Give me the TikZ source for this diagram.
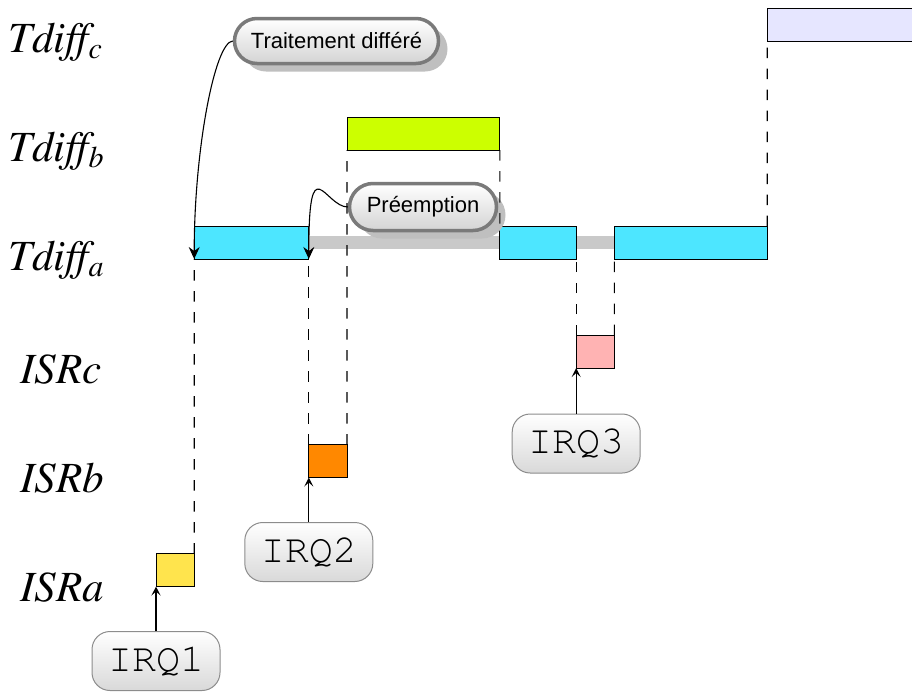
\documentclass[tikz,border=0pt]{standalone}
\usepackage[T1]{fontenc}
\usepackage{fontspec}
\newfontfamily\calloutfont{Liberation Sans}
\usetikzlibrary{shapes.misc,shadows,arrows.meta}

\definecolor{runA}{RGB}{77,230,255}
\definecolor{runB}{RGB}{204,255,0}
\definecolor{runC}{RGB}{230,230,255}
\definecolor{isrA}{RGB}{255,228,77}
\definecolor{isrB}{RGB}{255,136,0}
\definecolor{isrC}{RGB}{255,179,179}

% Times italic for the row names
\newcommand\labelfont{\fontencoding{T1}\fontfamily{ptm}\fontseries{m}\fontshape{it}\selectfont}
% subscript of the deferred-task labels
\newcommand\lowsub[1]{\raisebox{-6pt}{\fontsize{30}{30}\selectfont #1}}
% thin typewriter face for the interrupt names
\newcommand\irqfont{\fontencoding{T1}\fontfamily{pcr}\fontseries{m}\fontshape{n}\selectfont}

\begin{document}
\begin{tikzpicture}[x=1pt,y=-1pt,
  task/.style={draw=black, line width=1pt, inner sep=0pt, outer sep=0pt,
    minimum height=33pt, anchor=south west},
  waitbar/.style={fill=black!21, draw=none},
  rowlabel/.style={font=\labelfont\fontsize{43}{43}\selectfont, inner sep=0pt, anchor=base west},
  callout/.style={rounded rectangle, draw=black!52, line width=3.5pt,
    top color=white, bottom color=black!17, inner sep=0pt,
    font=\calloutfont\fontsize{22}{22}\selectfont,
    drop shadow={shadow xshift=9pt, shadow yshift=-8pt, fill=black!25, opacity=1}},
  irq/.style={rectangle, rounded corners=18pt, draw=black!45, line width=1pt,
    top color=white, bottom color=black!15, minimum width=128pt,
    minimum height=59pt, inner sep=0pt,
    font=\irqfont\fontsize{40}{40}\selectfont},
  link/.style={line width=1.1pt, dash pattern=on 10.5pt off 10.5pt},
  callarrow/.style={line width=1.1pt, -{Stealth[length=12pt,width=11pt,inset=4pt]}},
  irqarrow/.style={line width=1.3pt, -{Stealth[length=9pt,width=9pt,inset=4pt]}}]

\useasboundingbox (0,0) rectangle (912,691);
\clip (0,0) rectangle (912,691);

% row labels
\node[rowlabel] (lc) at (8,52) {Tdiff\lowsub{c}};
\node[rowlabel] (lb) at (8,161) {Tdiff\lowsub{b}};
\node[rowlabel] (la) at (8,270) {Tdiff\lowsub{a}};
\node[rowlabel] (lisrc) at (20,383) {ISRc};
\node[rowlabel] (lisrb) at (20,492) {ISRb};
\node[rowlabel] (lisra) at (20,601) {ISRa};

% preempted periods of task a
\fill[waitbar] (308.8,236) rectangle (499.8,249);
\fill[waitbar] (576.2,236) rectangle (614.4,249);

% execution slots
\node[task, fill=runC, minimum width=200pt] (tc) at (767.2,41) {};
\node[task, fill=runB, minimum width=152.8pt] (tb) at (347,150) {};
\node[task, fill=runA, minimum width=114.6pt] (ta1) at (194.2,259) {};
\node[task, fill=runA, minimum width=76.4pt] (ta2) at (499.8,259) {};
\node[task, fill=runA, minimum width=152.8pt] (ta3) at (614.4,259) {};
\node[task, fill=isrC, minimum width=38.2pt] (isrc) at (576.2,368) {};
\node[task, fill=isrB, minimum width=38.2pt] (isrb) at (308.8,477.5) {};
\node[task, fill=isrA, minimum width=38.2pt] (isra) at (156,586.5) {};

% callouts
\node[callout, minimum width=204pt, minimum height=45pt] (trait) at (336.5,41) {Traitement différé};
\node[callout, minimum width=147pt, minimum height=47pt] (pre) at (423,207) {Préemption};

% interrupt requests
\node[irq] (irq1) at (156,661) {IRQ1};
\node[irq] (irq2) at (308.8,552) {IRQ2};
\node[irq] (irq3) at (576.2,443.5) {IRQ3};

% hand-over links
\draw[link] (isra.north east) -- (ta1.south west);
\draw[link] (isrb.north west) -- (ta1.south east);
\draw[link] (isrb.north east) -- (tb.south west);
\draw[link] (tb.south east) -- (ta2.north west);
\draw[link] (isrc.north west) -- (ta2.south east);
\draw[link] (isrc.north east) -- (ta3.south west);
\draw[link] (ta3.north east) -- (tc.south west);

% triggers
\draw[irqarrow] (irq1.north) -- (isra.south west);
\draw[irqarrow] (irq2.north) -- (isrb.south west);
\draw[irqarrow] (irq3.north) -- (isrc.south west);

\draw[callarrow] (trait.west) .. controls +(-18,1) and +(0,-109) .. (ta1.south west);
\draw[callarrow] (pre.west) .. controls +(-23,0) and +(0,-114) .. (ta1.south east);
\end{tikzpicture}
\end{document}
